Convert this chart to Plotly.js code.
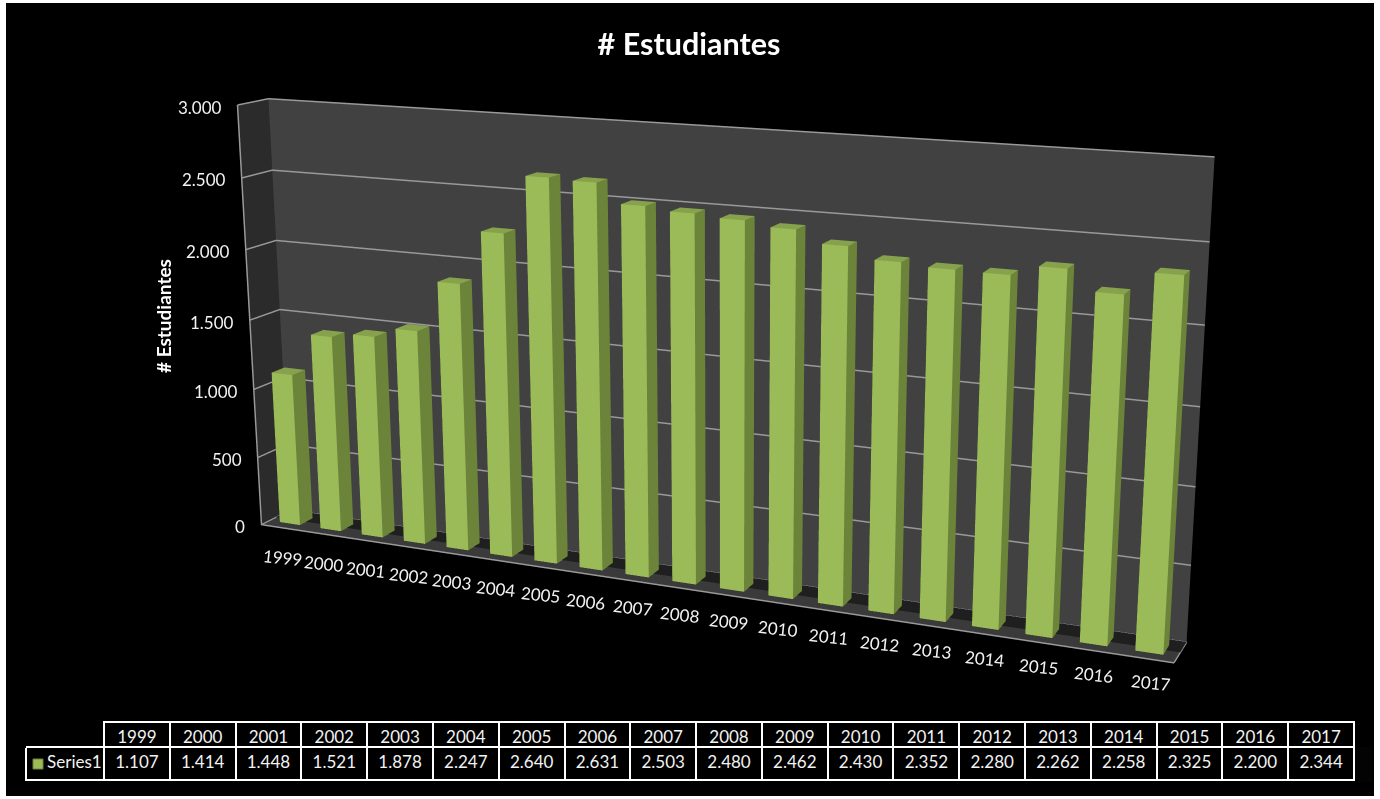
<!DOCTYPE html>
<html><head><meta charset="utf-8">
<script src="https://cdn.plot.ly/plotly-3.0.1.min.js"></script>
<style>html,body{margin:0;padding:0;background:#fff;overflow:hidden}
#w{position:absolute;left:6px;top:3px;width:1368px;height:793px;overflow:hidden;background:#000}
#c{position:absolute;left:-481px;top:-524px;width:2400px;height:1803px}</style>
</head><body><div id="w"><div id="c"></div></div>
<script>
const years=[1999,2000,2001,2002,2003,2004,2005,2006,2007,2008,2009,2010,2011,2012,2013,2014,2015,2016,2017];
const students=[1107,1414,1448,1521,1878,2247,2640,2631,2503,2480,2462,2430,2352,2280,2262,2258,2325,2200,2344];
const valueTicks=[0,500,1000,1500,2000,2500,3000];
const valueTickText=['0','500','1.000','1.500','2.000','2.500','3.000'];
const seriesName='Series1';
const chartTitle='# Estudiantes';
const FONT='Lato, "Open Sans", sans-serif';
const W=2400,H=1803,OX=475,OY=521;
const px=v=>(v+OX)/W, py=v=>1-(v+OY)/H;

const bx=[],by=[],bz=[],bi=[],bj=[],bk=[],bc=[];
const FRONT='#9bbb59',SIDE='#6c8439',TOP='#86a24c',SHADOW='#1f1f1f';
function box(x0,x1,y0,y1,z0,h,cf,cs,ct){
  const n=bx.length;
  [[x0,y0,z0],[x1,y0,z0],[x1,y1,z0],[x0,y1,z0],[x0,y0,h],[x1,y0,h],[x1,y1,h],[x0,y1,h]].forEach(p=>{bx.push(p[0]);by.push(p[1]);bz.push(p[2]);});
  [[0,1,5,cf],[0,5,4,cf],[1,2,6,cs],[1,6,5,cs],[4,5,6,ct],[4,6,7,ct],[3,0,4,cs],[3,4,7,cs]].forEach(t=>{bi.push(n+t[0]);bj.push(n+t[1]);bk.push(n+t[2]);bc.push(t[3]);});
}
box(0,19,0.5,1,0,3,SHADOW,SHADOW,SHADOW);
students.forEach((v,i)=>box(i+0.25,i+0.75,0.28,0.72,0,v,FRONT,SIDE,TOP));

const annotations=[];
valueTicks.forEach((t,i)=>annotations.push({x:0,y:0,z:t,text:valueTickText[i],showarrow:false,xanchor:'right',xshift:-14,yshift:-2,font:{family:FONT,size:17,color:'#f2f2f2'}}));
years.forEach((y,i)=>annotations.push({x:i+0.5,y:0,z:270,text:String(y),showarrow:false,yshift:-66,xshift:3,textangle:6,font:{family:FONT,size:17,color:'#f2f2f2'}}));

const ax={showgrid:false,zeroline:false,showticklabels:false,ticks:'',showspikes:false,title:{text:''},showline:true,linecolor:'#999999',linewidth:3};
const data=[
 {type:'mesh3d',x:bx,y:by,z:bz,i:bi,j:bj,k:bk,facecolor:bc,flatshading:true,hoverinfo:'skip',
  lighting:{ambient:1,diffuse:0,specular:0,roughness:1,fresnel:0},showscale:false},
 {type:'table',domain:{x:[px(26),px(1354)],y:[py(783),py(722)]},columnwidth:[78].concat(years.map(()=>65.8)),
  header:{values:[''].concat(years.map(String)),height:25,align:'center',fill:{color:'#000'},
    line:{color:['#000'].concat(years.map(()=>'#fff')),width:2},font:{family:FONT,size:17,color:'#f2f2f2'}},
  cells:{values:[['\u00a0\u00a0\u00a0'+seriesName]].concat(students.map(v=>[v.toLocaleString('de-DE')])),height:33,
    align:['left'].concat(years.map(()=>'center')),fill:{color:'#000'},
    line:{color:'#fff',width:2},font:{family:FONT,size:17,color:'#f2f2f2'}}}
];
const layout={
 width:W,height:H,paper_bgcolor:'#000',plot_bgcolor:'#000',margin:{l:0,r:0,t:0,b:0,pad:0},showlegend:false,
 title:{text:'<b>'+chartTitle+'</b>',font:{family:FONT,size:30.5,color:'#fff'},x:px(689),xanchor:'center',y:py(44),yanchor:'middle'},
 scene:{domain:{x:[0,1],y:[0,1]},
  xaxis:Object.assign({},ax,{range:[0,19],showbackground:true,backgroundcolor:'#2b2b2b'}),
  yaxis:Object.assign({},ax,{range:[0,1],showbackground:true,backgroundcolor:'#414141'}),
  zaxis:Object.assign({},ax,{range:[0,3000],tickvals:valueTicks,showgrid:true,gridcolor:'#999999',gridwidth:3,showbackground:true,backgroundcolor:'#3a3a3a'}),
  aspectmode:'manual',aspectratio:{x:2.99,y:0.165,z:1.372},
  camera:{eye:{x:2.576,y:-5.682,z:1.582},center:{x:0.107,y:0.028,z:-0.058},up:{x:0,y:0,z:1},projection:{type:'perspective'}},
  annotations:annotations},
 shapes:[{type:'rect',xref:'paper',yref:'paper',x0:px(33),x1:px(43),y0:py(769),y1:py(759),fillcolor:'#9bbb59',line:{color:'#6c8439',width:1}},
  {type:'line',xref:'paper',yref:'paper',x0:px(26),x1:px(104),y0:py(747),y1:py(747),line:{color:'#fff',width:2}}],
 annotations:[{xref:'paper',yref:'paper',x:px(163),y:py(316),xanchor:'center',yanchor:'middle',text:'<b># Estudiantes</b>',textangle:-90,showarrow:false,font:{family:FONT,size:19,color:'#fff'}}]
};
Plotly.newPlot('c',data,layout,{displayModeBar:false,responsive:false});
</script></body></html>
